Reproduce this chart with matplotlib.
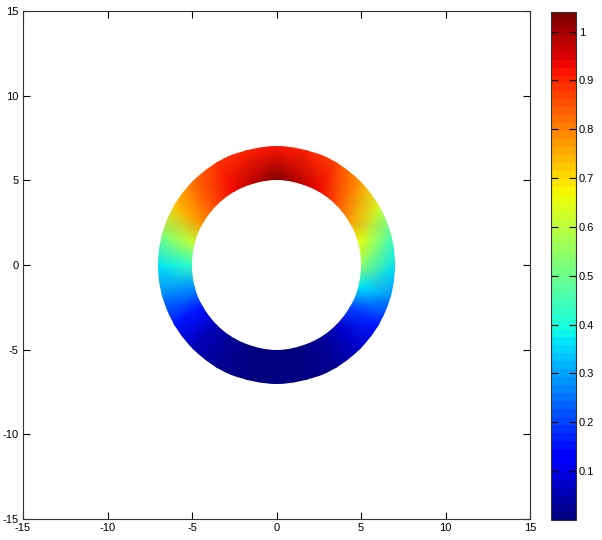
import numpy as np
import matplotlib
matplotlib.use('Agg')
import matplotlib.pyplot as plt
from matplotlib.patches import Wedge

# ring geometry
r_inner = 5
r_outer = 7

# value every 15 degrees (0 = +x axis, counterclockwise)
angles_deg = [0, 15, 30, 45, 60, 75, 90, 105, 120, 135, 150, 165,
              180, 195, 210, 225, 240, 255, 270, 285, 300, 315, 330, 345]
val_inner = [0.55, 0.66, 0.77, 0.86, 0.93, 0.99, 1.04, 0.99, 0.93, 0.87, 0.78, 0.61,
             0.43, 0.29, 0.16, 0.06, 0.02, 0.005, 0.0, 0.005, 0.03, 0.08, 0.20, 0.37]
val_outer = [0.37, 0.46, 0.62, 0.77, 0.87, 0.90, 0.92, 0.90, 0.88, 0.82, 0.72, 0.52,
             0.37, 0.27, 0.15, 0.06, 0.02, 0.005, 0.0, 0.005, 0.03, 0.07, 0.15, 0.28]

cbar_ticks = [0.1, 0.2, 0.3, 0.4, 0.5, 0.6, 0.7, 0.8, 0.9, 1]
vmin, vmax = 0.0, 1.04

# close the ring; outer vertices pushed out a bit so the clip circle is fully covered
th = np.deg2rad(np.array(angles_deg + [360]))
C = np.array([val_inner + val_inner[:1], val_outer + val_outer[:1]])
R = np.array([r_inner, r_outer / np.cos(np.pi / 24) + 0.02])
TH, RR = np.meshgrid(th, R)
X = RR * np.cos(TH)
Y = RR * np.sin(TH)

plt.rcParams['font.family'] = ['Liberation Sans', 'DejaVu Sans']
plt.rcParams['axes.unicode_minus'] = False
edge = '#333333'

fig = plt.figure(figsize=(6.02, 5.40), dpi=100)
ax = fig.add_axes([23/602, 21/540, 507/602, 508/540])
cmap = plt.get_cmap('jet', 64)
m = ax.pcolormesh(X, Y, C, shading='gouraud', cmap=cmap, vmin=vmin, vmax=vmax)
ring = Wedge((0, 0), r_outer, 0, 360, width=r_outer - r_inner,
             transform=ax.transData, facecolor='none', edgecolor='none')
ax.add_patch(ring)
m.set_clip_path(ring)

ax.set_xlim(-15, 15)
ax.set_ylim(-15, 15)
ax.set_xticks(np.arange(-15, 16, 5))
ax.set_yticks(np.arange(-15, 16, 5))
ax.tick_params(direction='in', top=True, right=True, length=5, width=0.8,
               labelsize=8, colors='black', pad=3)
for s in ax.spines.values():
    s.set_color(edge)
    s.set_linewidth(0.8)

cax = fig.add_axes([551/602, 20/540, 25/602, 508/540])
cb = fig.colorbar(m, cax=cax, ticks=cbar_ticks)
cb.ax.set_yticklabels(['0.1', '0.2', '0.3', '0.4', '0.5', '0.6', '0.7', '0.8', '0.9', '1'])
cb.ax.tick_params(direction='in', left=True, right=True, length=5, width=0.8,
                  labelsize=8, pad=2)
cb.outline.set_edgecolor(edge)
cb.outline.set_linewidth(0.8)

fig.savefig('out.png', dpi=100)
